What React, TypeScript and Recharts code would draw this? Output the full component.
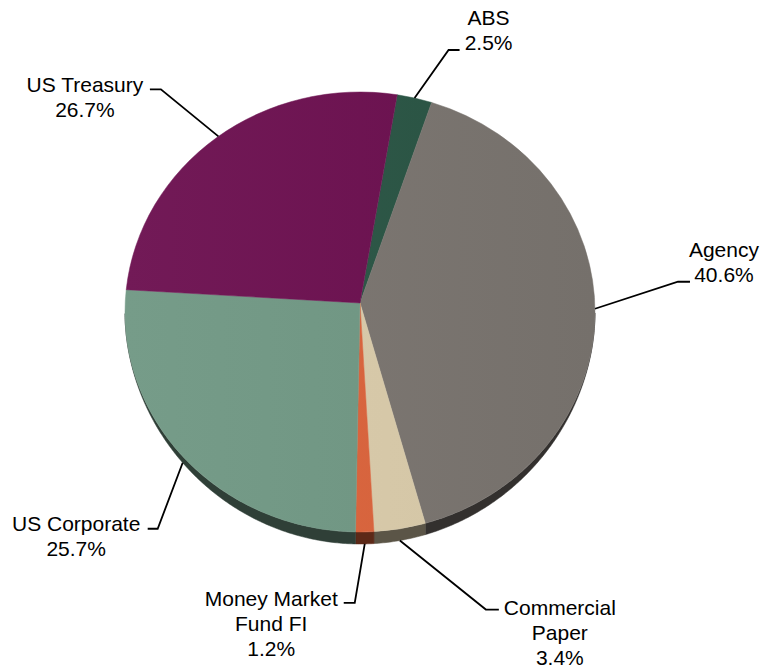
import React from 'react';
import { PieChart, Pie } from 'recharts';

// ---------- data ----------
const CATEGORIES = ['ABS', 'Agency', 'Commercial Paper', 'Money Market Fund FI', 'US Corporate', 'US Treasury'];
const VALUES = [2.5, 40.6, 3.4, 1.2, 25.7, 26.7];
const LABEL_LINES = [['ABS'], ['Agency'], ['Commercial', 'Paper'], ['Money Market', 'Fund FI'], ['US Corporate'], ['US Treasury']];

// ---------- style / layout ----------
const COLORS = ['#285343', '#79736e', '#d9caa9', '#da623a', '#6f9783', '#6b0e4e'];
const CHART_W = 763;
const CHART_H = 669;
const CX = 360;
const CY = 312;
const R = 235;
const SQUASH = 220 / 235;
const APEX_LIFT = 9;
const DEPTH = 12;
const DEPTH_EXP = 1.5;
const START_ANGLE = 80.5;
const FONT = '"Liberation Sans", Arial, sans-serif';
const FONT_SIZE = 21;
const LINE_H = 25;

// elbow offset from anchor (dx, dy), horizontal length h, text centre offset tx from line end, first baseline ty from elbow
const LABEL_LAYOUT = [
  { dx: 34, dy: -48, h: 11, tx: 29, ty: -25 },
  { dx: 83, dy: -27, h: 12, tx: 34, ty: -25 },
  { dx: 86, dy: 69, h: 13, tx: 61, ty: 5 },
  { dx: -10, dy: 59, h: -11, tx: -72.5, ty: 3 },
  { dx: -25, dy: 66, h: -10, tx: -71.5, ty: 2 },
  { dx: -57.5, dy: -47, h: -11, tx: -65, ty: 2.5 },
];

const data = CATEGORIES.map((name, i) => ({ name, value: VALUES[i], fill: COLORS[i] }));

const RAD = Math.PI / 180;

// point where a ray from the (lifted) apex at angle a meets the top-face ellipse
function rayPt(cx: number, cy: number, r: number, a: number): [number, number] {
  const rx = r;
  const ry = r * SQUASH;
  const dx = Math.cos(a * RAD);
  const dy = -SQUASH * Math.sin(a * RAD);
  const oy = -APEX_LIFT;
  const A = (dx * dx) / (rx * rx) + (dy * dy) / (ry * ry);
  const B = (2 * oy * dy) / (ry * ry);
  const C = (oy * oy) / (ry * ry) - 1;
  const t = (-B + Math.sqrt(B * B - 4 * A * C)) / (2 * A);
  return [cx + t * dx, cy + oy + t * dy];
}
// parametric angle of an ellipse point
function paramAngle(cx: number, cy: number, r: number, p: [number, number]) {
  return Math.atan2(-(p[1] - cy) / (r * SQUASH), (p[0] - cx) / r) / RAD;
}
function ellPt(cx: number, cy: number, r: number, phi: number): [number, number] {
  return [cx + r * Math.cos(phi * RAD), cy - r * SQUASH * Math.sin(phi * RAD)];
}
function thick(phi: number) {
  const s = Math.sin(phi * RAD);
  return s < 0 ? DEPTH * Math.pow(-s, DEPTH_EXP) : 0;
}
function scale(hex: string, f: number) {
  const n = parseInt(hex.slice(1), 16);
  const c = [(n >> 16) & 255, (n >> 8) & 255, n & 255].map((v) =>
    Math.max(0, Math.min(255, Math.round(f >= 1 ? v + (255 - v) * (f - 1) : v * f)))
  );
  return `rgb(${c[0]},${c[1]},${c[2]})`;
}

function SliceShape(props: any) {
  const { cx, cy, outerRadius, startAngle, endAngle, index } = props;
  const fill = COLORS[index] || props.fill;
  const rx = outerRadius;
  const ry = outerRadius * SQUASH;
  const hi = Math.max(startAngle, endAngle);
  const lo = Math.min(startAngle, endAngle);
  const p1 = rayPt(cx, cy, rx, hi);
  const p2 = rayPt(cx, cy, rx, lo);
  let phiHi = paramAngle(cx, cy, rx, p1);
  let phiLo = paramAngle(cx, cy, rx, p2);
  while (phiLo > phiHi) phiLo -= 360;
  while (phiHi - phiLo > 360) phiLo += 360;
  const large = phiHi - phiLo > 180 ? 1 : 0;
  const face = `M${cx},${cy - APEX_LIFT} L${p1[0]},${p1[1]} A${rx},${ry} 0 ${large} 1 ${p2[0]},${p2[1]} Z`;

  const phis: number[] = [];
  for (let a = phiHi; a > phiLo; a -= 0.5) phis.push(a);
  phis.push(phiLo);
  const top: [number, number][] = [];
  const bot: [number, number][] = [];
  phis.forEach((a) => {
    if (Math.sin(a * RAD) < 0) {
      const p = ellPt(cx, cy, rx, a);
      top.push(p);
      bot.push([p[0], p[1] + thick(a)]);
    }
  });
  let side = '';
  if (top.length > 1) {
    side =
      'M' +
      top.map((p) => `${p[0]},${p[1]}`).join(' L') +
      ' L' +
      bot
        .slice()
        .reverse()
        .map((p) => `${p[0]},${p[1]}`)
        .join(' L') +
      ' Z';
  }
  const gid = `slice-grad-${index}`;
  return (
    <g>
      <defs>
        <linearGradient id={gid} gradientUnits="userSpaceOnUse" x1={cx - rx} y1={cy} x2={cx + rx} y2={cy}>
          <stop offset="0%" stopColor={scale(fill, 1.05)} />
          <stop offset="100%" stopColor={scale(fill, 0.97)} />
        </linearGradient>
      </defs>
      {side && <path d={side} fill={scale(fill, 0.42)} stroke={scale(fill, 0.42)} strokeWidth={0.5} />}
      <path d={face} fill={`url(#${gid})`} stroke={`url(#${gid})`} strokeWidth={0.5} />
    </g>
  );
}

function renderLabel(props: any) {
  const { cx, cy, midAngle, outerRadius, index, value } = props;
  const L = LABEL_LAYOUT[index];
  const p = rayPt(cx, cy, outerRadius, midAngle);
  const phi = paramAngle(cx, cy, outerRadius, p);
  const ax = p[0];
  const ay = p[1] + thick(phi);
  const ex = ax + L.dx;
  const ey = ay + L.dy;
  const hx = ex + L.h;
  const lines = [...LABEL_LINES[index], `${Number(value).toFixed(1)}%`];
  const tcx = hx + L.tx;
  return (
    <g key={`lbl-${index}`}>
      <polyline
        points={`${ax},${ay} ${ex},${ey} ${hx},${ey}`}
        fill="none"
        stroke="#000"
        strokeWidth={1.8}
      />
      <text textAnchor="middle" fontFamily={FONT} fontSize={FONT_SIZE} fill="#000">
        {lines.map((t, i) => (
          <tspan key={i} x={tcx} y={ey + L.ty + i * LINE_H}>
            {t}
          </tspan>
        ))}
      </text>
    </g>
  );
}

export default function App() {
  return (
    <div style={{ position: 'absolute', left: 0, top: 0, width: CHART_W, height: CHART_H, background: '#fff' }}>
      <PieChart width={CHART_W} height={CHART_H} margin={{ top: 0, right: 0, bottom: 0, left: 0 }}>
        <Pie
          data={data}
          dataKey="value"
          nameKey="name"
          cx={CX}
          cy={CY}
          outerRadius={R}
          innerRadius={0}
          startAngle={START_ANGLE}
          endAngle={START_ANGLE - 360}
          stroke="none"
          isAnimationActive={false}
          shape={SliceShape}
          activeShape={SliceShape}
          label={renderLabel}
          labelLine={false}
        />
      </PieChart>
    </div>
  );
}
